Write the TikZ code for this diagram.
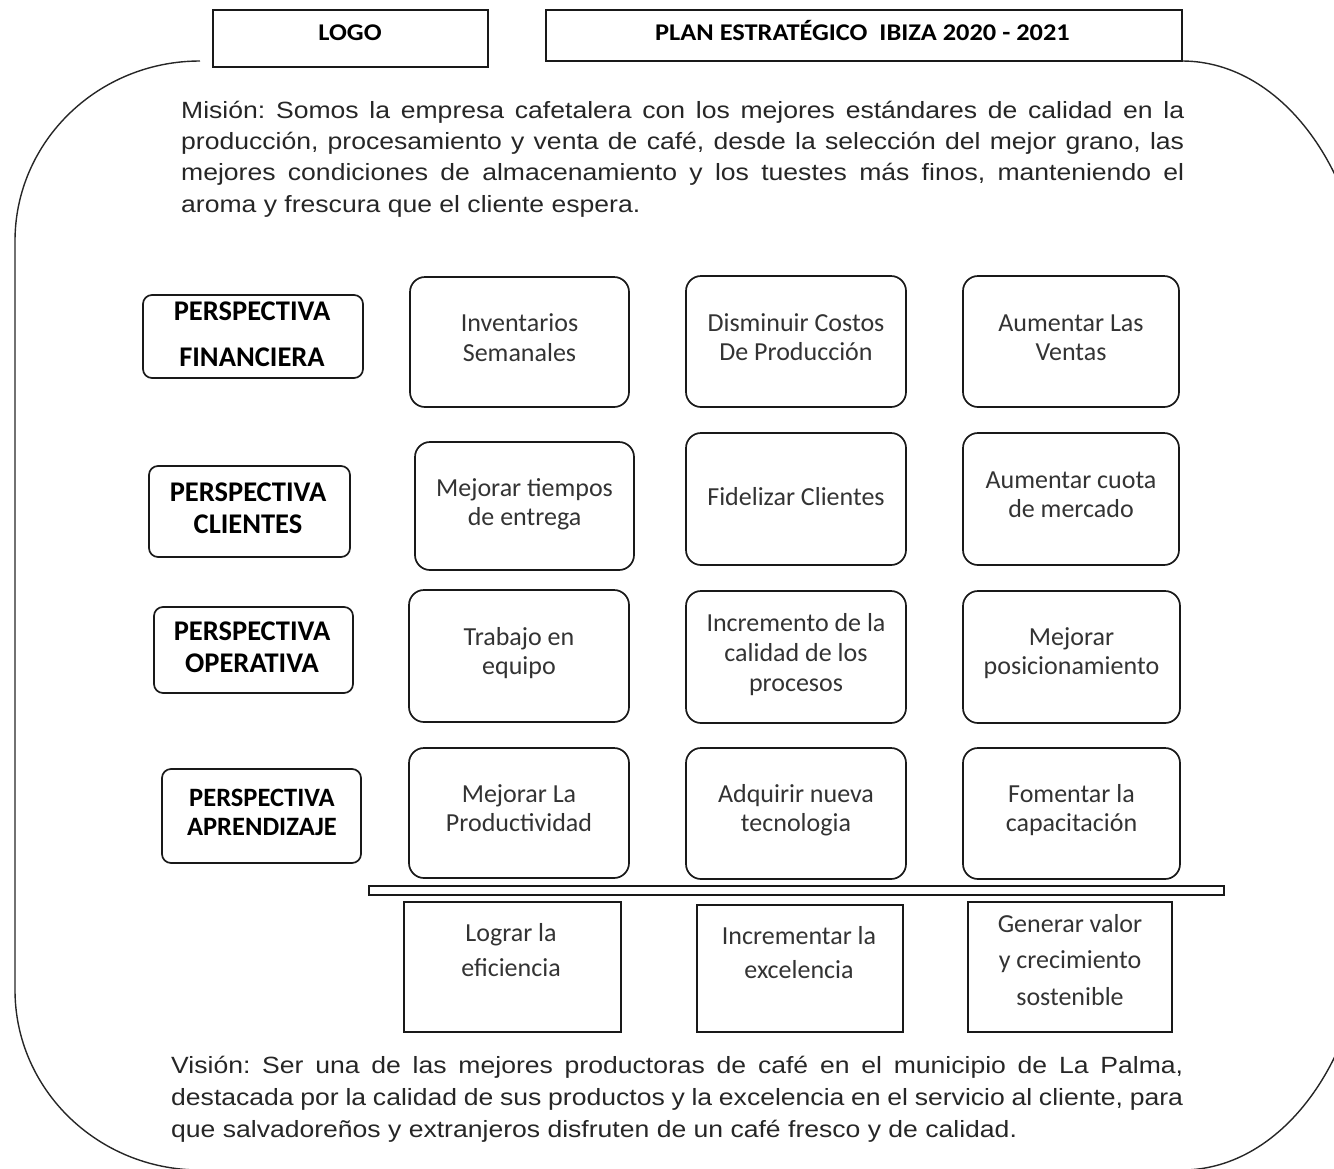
\documentclass[tikz,border=0pt]{standalone}
\usepackage{fontspec}
\setmainfont{Carlito}
\newfontfamily\arialf[FakeStretch=1.13]{Liberation Sans}
\newfontfamily\calf{Carlito}
\newfontfamily\hdrf[FakeStretch=1.1]{Carlito}
\frenchspacing
\begin{document}
\begin{tikzpicture}[x=1pt,y=-1pt,
  frameline/.style={draw=black!85,line width=1.4pt},
  hdrbox/.style={draw=black!90,line width=1.7pt,fill=white,inner sep=0},
  pbox/.style={draw=black!90,line width=1.7pt,rounded corners=9pt,inner sep=0},
  gbox/.style={draw=black!90,line width=1.7pt,rounded corners=15pt,inner sep=0},
  rbox/.style={draw=black!90,line width=1.7pt,inner sep=0},
  bar/.style={draw=black!90,line width=1.5pt,inner sep=0},
  gt/.style={inner sep=0,anchor=base,text=black!80,font=\calf\fontsize{26}{30}\selectfont},
  pt/.style={inner sep=0,anchor=base,text=black,font=\calf\bfseries\fontsize{28.5}{32}\selectfont},
  ht/.style={inner sep=0,anchor=base,text=black,font=\hdrf\bfseries\fontsize{24}{28}\selectfont},
  para/.style={inner sep=0,anchor=base west,text=black!85}
]
\useasboundingbox (0,0) rectangle (1334,1168);
\begin{scope}
\clip (0,0) rectangle (1334,1168);
\draw[frameline] (200,61) arc[start angle=-90,end angle=-180,x radius=185,y radius=180]
  -- (15,990) arc[start angle=180,end angle=90,x radius=185,y radius=180]
  -- (1182,1170) arc[start angle=90,end angle=0,x radius=185,y radius=260]
  -- (1367,321) arc[start angle=0,end angle=-90,x radius=185,y radius=260];
\end{scope}

% header
\node[hdrbox,minimum width=275pt,minimum height=57pt] (logo) at (350.5,38.5) {};
\node[hdrbox,minimum width=636pt,minimum height=51pt] (plan) at (864,35.5) {};
\node[ht] (logot) at (350,40.7) {LOGO};
\node[ht] (plant) at (862.5,40.7) {PLAN ESTRATÉGICO\ \ IBIZA 2020 - 2021};

% mission
\node[para] (mision) at (181,118.3) {\parbox[t]{1003pt}{\arialf\fontsize{23.5}{31.3}\selectfont
\makebox[1003pt][s]{Misión: Somos la empresa cafetalera con los mejores estándares de calidad en la}\\
\makebox[1003pt][s]{producción, procesamiento y venta de café, desde la selección del mejor grano, las}\\
\makebox[1003pt][s]{mejores condiciones de almacenamiento y los tuestes más finos, manteniendo el}\\
aroma y frescura que el cliente espera.}};

% perspective boxes
\node[pbox,minimum width=220pt,minimum height=83pt] (pfin) at (253,336.5) {};
\node[pbox,minimum width=201pt,minimum height=91pt] (pcli) at (249.5,511.5) {};
\node[pbox,minimum width=199pt,minimum height=86pt] (pope) at (253.5,650) {};
\node[pbox,minimum width=199pt,minimum height=94pt] (papr) at (261.5,816) {};
\node[pt] (pfint) at (252,320) {\parbox[t]{240pt}{\centering\fontsize{28.5}{46.7}\selectfont PERSPECTIVA\\FINANCIERA}};
\node[pt] (pclit) at (248,501.7) {\parbox[t]{240pt}{\centering PERSPECTIVA\\CLIENTES}};
\node[pt] (popet) at (252,640) {\parbox[t]{240pt}{\centering PERSPECTIVA\\OPERATIVA}};
\node[pt] (paprt) at (262,806.7) {\parbox[t]{240pt}{\centering\fontsize{26.5}{28.3}\selectfont PERSPECTIVA\\APRENDIZAJE}};

% grid boxes
\node[gbox,minimum width=219pt,minimum height=130pt] (g11) at (519.5,342) {};
\node[gbox,minimum width=219pt,minimum height=128pt] (g21) at (524.5,506) {};
\node[gbox,minimum width=220pt,minimum height=132pt] (g31) at (519,656) {};
\node[gbox,minimum width=220pt,minimum height=130pt] (g41) at (519,813) {};
\node[gbox,minimum width=220pt,minimum height=131pt] (g12) at (796,341.5) {};
\node[gbox,minimum width=220pt,minimum height=132pt] (g22) at (796,499) {};
\node[gbox,minimum width=220pt,minimum height=132pt] (g32) at (796,657) {};
\node[gbox,minimum width=220pt,minimum height=131pt] (g42) at (796,813.5) {};
\node[gbox,minimum width=216pt,minimum height=131pt] (g13) at (1071,341.5) {};
\node[gbox,minimum width=216pt,minimum height=132pt] (g23) at (1071,499) {};
\node[gbox,minimum width=217pt,minimum height=132pt] (g33) at (1071.5,657) {};
\node[gbox,minimum width=217pt,minimum height=131pt] (g43) at (1071.5,813.5) {};

\node[gt] (t11) at (519.5,331.7) {\parbox[t]{240pt}{\centering Inventarios\\Semanales}};
\node[gt] (t21) at (524.5,496.7) {\parbox[t]{240pt}{\centering\fontsize{26}{28.5}\selectfont Mejorar tiempos\\de entrega}};
\node[gt] (t31) at (519,645) {\parbox[t]{240pt}{\centering\fontsize{26}{29.3}\selectfont Trabajo en\\equipo}};
\node[gt] (t41) at (519,802.7) {\parbox[t]{240pt}{\centering\fontsize{26}{28.3}\selectfont Mejorar La\\Productividad}};
\node[gt] (t12) at (796,331.7) {\parbox[t]{240pt}{\centering\fontsize{26}{29}\selectfont Disminuir Costos\\De Producción}};
\node[gt] (t22) at (796,505) {Fidelizar Clientes};
\node[gt] (t32) at (796,631.7) {\parbox[t]{240pt}{\centering Incremento de la\\calidad de los\\procesos}};
\node[gt] (t42) at (796,802.7) {\parbox[t]{240pt}{\centering\fontsize{26}{28.3}\selectfont Adquirir nueva\\tecnologia}};
\node[gt] (t13) at (1071,331.7) {\parbox[t]{240pt}{\centering\fontsize{26}{29}\selectfont Aumentar Las\\Ventas}};
\node[gt] (t23) at (1071,488.3) {\parbox[t]{240pt}{\centering\fontsize{26}{29}\selectfont Aumentar cuota\\de mercado}};
\node[gt] (t33) at (1071.5,645) {\parbox[t]{240pt}{\centering\fontsize{26}{29.3}\selectfont Mejorar\\posicionamiento}};
\node[gt] (t43) at (1071.5,802.7) {\parbox[t]{240pt}{\centering\fontsize{26}{28.3}\selectfont Fomentar la\\capacitación}};

% bar
\node[bar,minimum width=855pt,minimum height=9pt] (barra) at (796.5,890.5) {};

% bottom boxes
\node[rbox,minimum width=217pt,minimum height=130pt] (b1) at (512.5,967) {};
\node[rbox,minimum width=206pt,minimum height=127pt] (b2) at (800,968.5) {};
\node[rbox,minimum width=204pt,minimum height=130pt] (b3) at (1070,967) {};
\node[gt] (bt1) at (511,941) {\parbox[t]{240pt}{\centering\fontsize{26}{35}\selectfont Lograr la\\eficiencia}};
\node[gt] (bt2) at (799,944) {\parbox[t]{240pt}{\centering\fontsize{26}{34.3}\selectfont Incrementar la\\excelencia}};
\node[gt] (bt3) at (1070,932.7) {\parbox[t]{240pt}{\centering\fontsize{26}{36.2}\selectfont Generar valor\\y crecimiento\\sostenible}};

% vision
\node[para] (vision) at (171,1073) {\parbox[t]{1012pt}{\arialf\fontsize{23.5}{32}\selectfont
\makebox[1012pt][s]{Visión: Ser una de las mejores productoras de café en el municipio de La Palma,}\\
\makebox[1012pt][s]{destacada por la calidad de sus productos y la excelencia en el servicio al cliente, para}\\
que salvadoreños y extranjeros disfruten de un café fresco y de calidad.}};
\end{tikzpicture}
\end{document}
